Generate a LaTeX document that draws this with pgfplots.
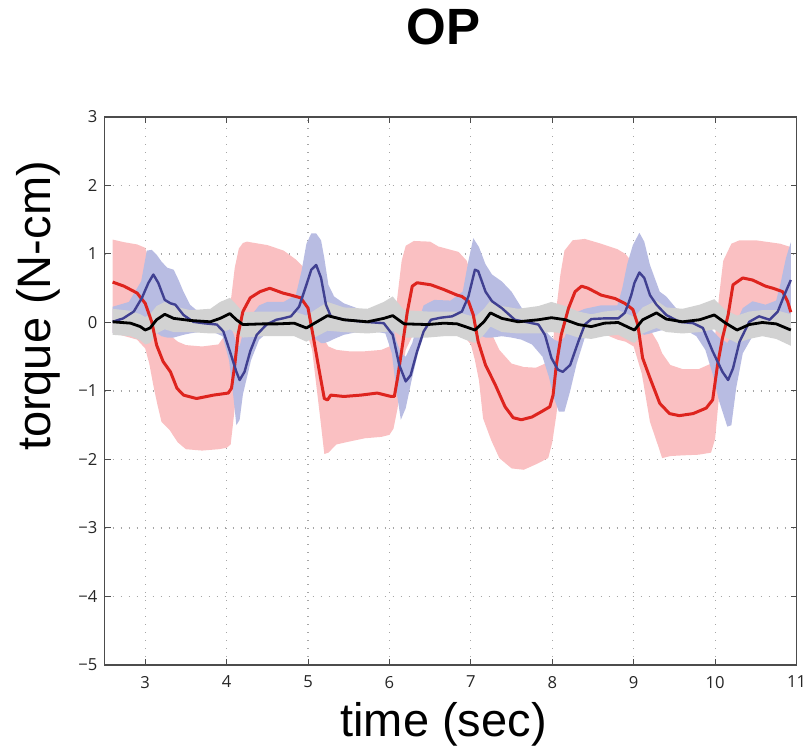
\documentclass[border=0pt]{standalone}
\usepackage{fontspec}
\setmainfont{Liberation Sans}
\newfontfamily\tickfont{Open Sans}
\usepackage{pgfplots}
\usepackage{pgfplotstable}
\pgfplotsset{compat=1.18}
\usepgfplotslibrary{fillbetween}

\definecolor{pinkband}{RGB}{250,192,194}
\definecolor{blueband}{RGB}{184,188,226}
\definecolor{grayband}{RGB}{210,210,210}
\definecolor{redline}{RGB}{222,36,30}
\definecolor{blueline}{RGB}{64,64,145}

% red mean
\pgfplotstableread{
x y
2.60 0.59
2.74 0.53
2.90 0.43
3.00 0.28
3.08 0.01
3.14 -0.33
3.22 -0.57
3.31 -0.72
3.39 -0.96
3.47 -1.06
3.63 -1.11
3.84 -1.06
4.02 -1.03
4.06 -0.96
4.10 -0.62
4.14 -0.18
4.20 0.16
4.29 0.36
4.41 0.45
4.53 0.50
4.69 0.43
4.79 0.40
4.91 0.36
5.00 0.21
5.06 -0.18
5.14 -0.72
5.20 -1.11
5.24 -1.13
5.28 -1.06
5.44 -1.08
5.65 -1.06
5.85 -1.03
6.02 -1.08
6.06 -1.08
6.10 -0.81
6.16 -0.33
6.22 0.16
6.28 0.53
6.34 0.58
6.51 0.55
6.67 0.48
6.83 0.40
6.89 0.38
6.97 0.31
7.03 0.11
7.09 -0.28
7.18 -0.62
7.30 -0.91
7.42 -1.23
7.52 -1.39
7.62 -1.42
7.75 -1.38
7.87 -1.30
7.97 -1.23
8.01 -1.06
8.05 -0.62
8.11 -0.18
8.20 0.21
8.28 0.45
8.36 0.53
8.44 0.50
8.60 0.40
8.77 0.35
8.89 0.28
8.99 0.19
9.05 -0.03
9.11 -0.52
9.20 -0.81
9.32 -1.18
9.44 -1.33
9.56 -1.36
9.73 -1.33
9.89 -1.25
9.97 -1.13
10.03 -0.62
10.09 -0.23
10.16 0.11
10.22 0.55
10.34 0.65
10.46 0.62
10.62 0.53
10.71 0.50
10.83 0.45
10.89 0.31
10.93 0.15
}\redmean

% red band
\pgfplotstableread{
x u l
2.60 1.21 -0.15
2.75 1.17 -0.20
2.90 1.14 -0.25
3.00 1.09 -0.38
3.05 0.90 -0.60
3.10 0.60 -0.92
3.15 0.30 -1.20
3.20 0.10 -1.45
3.30 -0.18 -1.57
3.40 -0.28 -1.75
3.50 -0.33 -1.85
3.70 -0.35 -1.87
3.90 -0.32 -1.85
4.00 -0.15 -1.83
4.05 0.30 -1.78
4.10 0.80 -1.25
4.15 1.08 -0.65
4.20 1.16 -0.32
4.25 1.18 -0.15
4.50 1.13 -0.08
4.70 1.05 -0.10
4.85 0.92 -0.12
4.95 0.80 -0.15
5.00 0.60 -0.20
5.05 0.30 -0.40
5.10 0.10 -0.90
5.15 -0.10 -1.40
5.20 -0.25 -1.92
5.25 -0.35 -1.90
5.35 -0.40 -1.78
5.50 -0.42 -1.74
5.70 -0.42 -1.69
5.90 -0.40 -1.67
6.00 -0.35 -1.64
6.05 -0.10 -1.55
6.10 0.40 -1.25
6.15 0.90 -0.75
6.20 1.12 -0.40
6.30 1.19 -0.15
6.50 1.18 -0.10
6.60 1.11 -0.12
6.85 1.03 -0.20
6.95 0.90 -0.25
7.00 0.70 -0.32
7.05 0.40 -0.55
7.10 0.20 -0.85
7.15 0.00 -1.40
7.25 -0.15 -1.72
7.35 -0.40 -1.98
7.50 -0.60 -2.13
7.65 -0.65 -2.15
7.80 -0.66 -2.07
7.95 -0.58 -1.98
8.00 -0.40 -1.75
8.05 0.20 -1.35
8.10 0.70 -0.85
8.15 1.05 -0.45
8.25 1.20 -0.22
8.40 1.22 -0.12
8.60 1.15 -0.15
8.80 1.07 -0.25
8.90 1.00 -0.28
9.00 0.85 -0.35
9.05 0.55 -0.55
9.10 0.25 -0.75
9.20 -0.10 -1.45
9.30 -0.30 -1.80
9.35 -0.45 -1.98
9.45 -0.62 -1.95
9.60 -0.68 -1.94
9.80 -0.68 -1.93
9.95 -0.60 -1.90
10.00 -0.20 -1.70
10.05 0.40 -1.05
10.10 0.90 -0.60
10.20 1.15 -0.25
10.30 1.20 -0.15
10.50 1.20 -0.15
10.80 1.15 -0.25
10.93 1.10 -0.30
}\redband

% blue mean
\pgfplotstableread{
x y
2.60 0.01
2.73 0.06
2.86 0.16
2.96 0.36
3.04 0.58
3.10 0.70
3.16 0.58
3.24 0.33
3.31 0.28
3.37 0.26
3.47 0.11
3.59 0.01
3.71 -0.01
3.88 -0.03
3.96 -0.13
4.04 -0.42
4.12 -0.72
4.16 -0.84
4.22 -0.72
4.29 -0.42
4.37 -0.18
4.49 -0.03
4.61 0.04
4.69 0.06
4.79 0.09
4.89 0.23
4.98 0.55
5.04 0.77
5.10 0.84
5.16 0.65
5.22 0.26
5.28 0.09
5.44 0.04
5.69 0.01
5.93 -0.01
6.04 -0.18
6.12 -0.62
6.20 -0.86
6.26 -0.77
6.34 -0.42
6.42 -0.13
6.51 0.04
6.63 0.07
6.77 0.09
6.89 0.16
6.97 0.38
7.05 0.77
7.09 0.75
7.18 0.45
7.26 0.31
7.38 0.21
7.54 0.04
7.71 0.00
7.83 -0.03
7.91 -0.18
7.99 -0.52
8.07 -0.69
8.13 -0.72
8.22 -0.62
8.32 -0.28
8.40 -0.03
8.48 0.05
8.64 0.06
8.81 0.06
8.89 0.14
8.93 0.26
8.97 0.40
9.01 0.58
9.07 0.73
9.13 0.65
9.20 0.40
9.28 0.26
9.40 0.11
9.56 0.01
9.73 -0.01
9.85 -0.08
9.97 -0.42
10.09 -0.72
10.16 -0.84
10.22 -0.67
10.30 -0.28
10.42 0.01
10.54 0.09
10.67 0.04
10.77 0.16
10.85 0.40
10.93 0.62
}\bluemean

% blue band
\pgfplotstableread{
x u l
2.60 0.23 -0.15
2.80 0.30 -0.12
2.95 0.60 -0.10
3.02 1.05 -0.10
3.08 1.06 -0.12
3.14 0.99 -0.15
3.20 0.89 -0.20
3.27 0.80 -0.22
3.35 0.77 -0.22
3.41 0.62 -0.20
3.47 0.45 -0.18
3.55 0.26 -0.16
3.65 0.16 -0.14
3.80 0.10 -0.12
3.95 0.05 -0.20
4.03 -0.02 -0.55
4.08 -0.15 -1.05
4.12 -0.30 -1.50
4.16 -0.35 -1.42
4.20 -0.15 -1.05
4.30 0.10 -0.55
4.40 0.25 -0.25
4.50 0.30 -0.15
4.70 0.30 -0.08
4.85 0.40 -0.08
4.92 0.75 -0.10
4.98 1.15 -0.12
5.04 1.30 -0.18
5.10 1.30 -0.25
5.16 1.20 -0.30
5.20 0.94 -0.30
5.25 0.55 -0.28
5.32 0.38 -0.24
5.44 0.28 -0.18
5.60 0.21 -0.14
5.77 0.14 -0.12
5.95 0.10 -0.16
6.03 0.00 -0.45
6.08 -0.25 -0.95
6.14 -0.45 -1.42
6.20 -0.50 -1.25
6.28 -0.30 -0.80
6.35 0.00 -0.45
6.42 0.25 -0.20
6.55 0.33 -0.10
6.75 0.32 -0.08
6.90 0.45 -0.10
6.97 0.90 -0.12
7.03 1.23 -0.15
7.10 1.10 -0.18
7.18 0.85 -0.22
7.26 0.70 -0.22
7.38 0.60 -0.20
7.50 0.45 -0.22
7.62 0.22 -0.25
7.75 0.06 -0.32
7.88 -0.08 -0.50
7.96 -0.18 -0.80
8.02 -0.25 -1.10
8.08 -0.28 -1.30
8.15 -0.22 -1.30
8.22 0.00 -1.00
8.30 0.15 -0.60
8.40 0.20 -0.22
8.60 0.25 -0.10
8.80 0.25 -0.06
8.86 0.50 -0.05
8.92 0.85 -0.06
8.99 1.13 -0.10
9.07 1.31 -0.15
9.13 1.18 -0.18
9.20 0.84 -0.16
9.32 0.45 -0.12
9.40 0.38 -0.10
9.52 0.21 -0.10
9.65 0.14 -0.12
9.77 0.11 -0.20
9.88 0.02 -0.40
9.97 -0.12 -0.75
10.05 -0.22 -1.15
10.15 -0.30 -1.52
10.20 -0.20 -1.50
10.26 0.00 -0.95
10.34 0.21 -0.45
10.46 0.31 -0.20
10.62 0.26 -0.15
10.75 0.32 -0.12
10.80 0.55 -0.10
10.87 0.94 -0.08
10.93 1.17 -0.06
}\blueband

% black mean with gray band
\pgfplotstableread{
x y u l
2.60 0.01 0.20 -0.18
2.82 -0.01 0.17 -0.20
2.94 -0.06 0.12 -0.26
3.00 -0.11 0.08 -0.32
3.06 -0.08 0.12 -0.30
3.14 0.04 0.24 -0.16
3.24 0.12 0.30 -0.10
3.35 0.06 0.24 -0.14
3.55 0.03 0.18 -0.14
3.80 0.01 0.20 -0.16
3.92 0.06 0.30 -0.16
4.04 0.13 0.36 -0.10
4.12 0.04 0.26 -0.16
4.20 -0.03 0.15 -0.22
4.45 -0.02 0.16 -0.20
4.63 -0.02 0.16 -0.20
4.83 -0.01 0.16 -0.20
4.98 -0.08 0.10 -0.28
5.08 -0.01 0.18 -0.22
5.24 0.10 0.30 -0.12
5.44 0.04 0.22 -0.14
5.73 0.01 0.20 -0.16
5.93 0.06 0.30 -0.14
6.04 0.10 0.38 -0.12
6.18 -0.02 0.18 -0.22
6.47 -0.03 0.16 -0.22
6.67 -0.01 0.16 -0.20
6.83 -0.02 0.16 -0.20
6.93 -0.06 0.12 -0.25
7.05 -0.11 0.08 -0.30
7.16 0.01 0.20 -0.18
7.24 0.14 0.32 -0.06
7.38 0.06 0.24 -0.14
7.58 0.01 0.20 -0.16
7.83 0.04 0.24 -0.16
7.99 0.07 0.30 -0.14
8.16 0.04 0.24 -0.16
8.32 -0.03 0.16 -0.22
8.48 -0.06 0.12 -0.24
8.64 -0.01 0.16 -0.20
8.81 0.00 0.18 -0.18
8.97 -0.09 0.10 -0.28
9.01 -0.11 0.08 -0.30
9.11 0.04 0.22 -0.16
9.28 0.14 0.32 -0.08
9.40 0.05 0.22 -0.14
9.60 0.01 0.20 -0.16
9.81 0.04 0.26 -0.14
9.99 0.11 0.34 -0.10
10.13 -0.01 0.18 -0.22
10.27 -0.11 0.10 -0.30
10.42 -0.03 0.16 -0.24
10.58 0.00 0.18 -0.20
10.75 -0.02 0.18 -0.24
10.93 -0.11 0.12 -0.34
}\blackmean

\begin{document}
\begin{tikzpicture}
\begin{axis}[
  scale only axis,
  width=346pt, height=274pt,
  xmin=2.5, xmax=11, ymin=-5, ymax=3,
  xtick={3,...,11}, ytick={-5,...,3},
  yticklabels={−5,−4,−3,−2,−1,0,1,2,3},
  tick pos=both, tick align=inside,
  major tick length=3pt,
  tick style={gray!60!black, line width=0.5pt},
  axis line style={gray!60!black, line width=0.7pt},
  grid=major,
  major grid style={gray!70, line width=0.6pt, dash pattern=on 0.6pt off 3.4pt},
  ticklabel style={font=\tickfont\fontsize{8.3}{10}\selectfont, text=black!85},
  /pgf/number format/assume math mode=true,
  xticklabel style={yshift=-2pt},
  title={OP},
  title style={at={(rel axis cs:0.49,1)}, anchor=base, yshift=30pt,
    font=\bfseries\fontsize{25.5}{30}\selectfont},
  xlabel={time (sec)},
  xlabel style={at={(rel axis cs:0.49,0)}, anchor=base, yshift=-36pt,
    font=\fontsize{23.5}{28}\selectfont},
  ylabel={torque (N-cm)},
  ylabel style={at={(rel axis cs:-0.095,0.655)}, anchor=center,
    font=\fontsize{23.5}{28}\selectfont},
  clip=true,
]
  % red band
  \addplot[draw=none, name path=ru] table[x=x, y=u] {\redband};
  \addplot[draw=none, name path=rl] table[x=x, y=l] {\redband};
  \addplot[fill=pinkband, draw=none] fill between[of=ru and rl];
  % blue band
  \addplot[draw=none, name path=bu] table[x=x, y=u] {\blueband};
  \addplot[draw=none, name path=bl] table[x=x, y=l] {\blueband};
  \addplot[fill=blueband, draw=none] fill between[of=bu and bl];
  % gray band
  \addplot[draw=none, name path=gu] table[x=x, y=u] {\blackmean};
  \addplot[draw=none, name path=gl] table[x=x, y=l] {\blackmean};
  \addplot[fill=grayband, draw=none] fill between[of=gu and gl];
  % mean lines
  \addplot[redline, line width=1.5pt, line join=round] table[x=x, y=y] {\redmean};
  \addplot[blueline, line width=1.2pt, line join=round] table[x=x, y=y] {\bluemean};
  \addplot[black, line width=1.4pt, line join=round] table[x=x, y=y] {\blackmean};
\end{axis}
\pgfresetboundingbox
\path[use as bounding box] (-52.25pt,-41pt) rectangle (351.25pt,332.5pt);
\end{tikzpicture}
\end{document}
